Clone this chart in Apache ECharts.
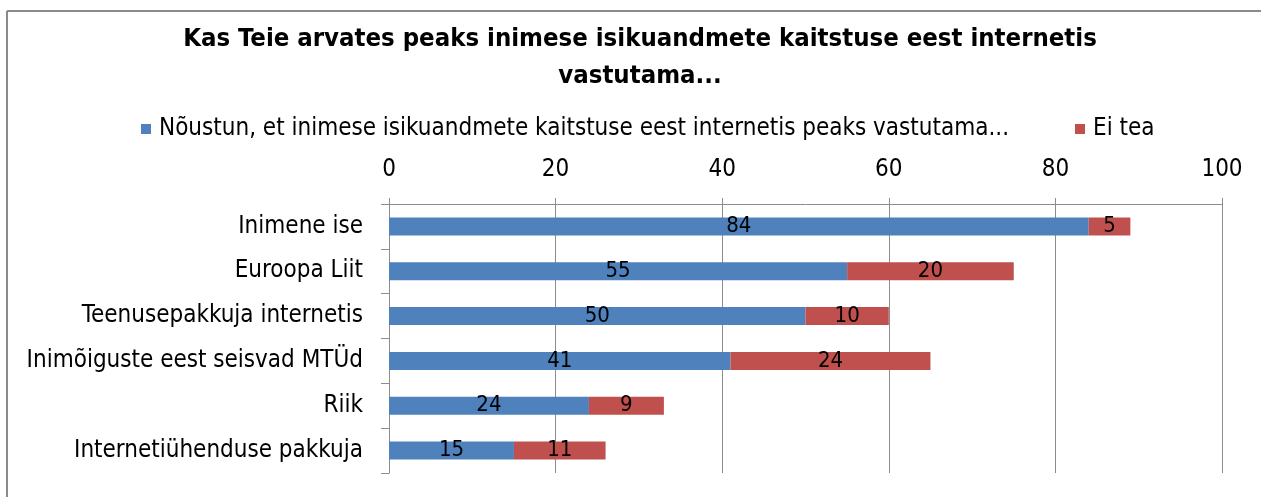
<!DOCTYPE html>
<html>
<head>
<meta charset="utf-8">
<script src="https://cdn.jsdelivr.net/npm/echarts@6/dist/echarts.min.js"></script>
<style>
  html, body { margin: 0; padding: 0; background: #fff; }
  #chart { width: 1261px; height: 497px; }
</style>
</head>
<body>
<div id="chart"></div>
<script>
// categories (top to bottom)
const categories = [
  'Inimene ise',
  'Euroopa Liit',
  'Teenusepakkuja internetis',
  'Inimõiguste eest seisvad MTÜd',
  'Riik',
  'Internetiühenduse pakkuja'
]
const agreeValues = [84, 55, 50, 41, 24, 15]
const dontKnowValues = [5, 20, 10, 24, 9, 11]
const seriesNames = ['Nõustun, et inimese isikuandmete kaitstuse eest internetis peaks vastutama...', 'Ei tea']
const titleText = 'Kas Teie arvates peaks inimese isikuandmete kaitstuse eest internetis\nvastutama...'

const font = '"DejaVu Sans Condensed", "Liberation Sans Narrow", sans-serif'
const gridColor = '#8c8c8c'
const textSize = 24

let chart = echarts.init(document.getElementById('chart'))

// label shown inside the middle of each segment
const barLabel = {
  show: true,
  position: 'inside',
  color: '#000',
  fontFamily: font,
  fontSize: 22
}

chart.setOption({
  backgroundColor: '#fff',
  animation: false,
  title: {
    text: titleText,
    left: 640,
    textAlign: 'center',
    top: 21,
    padding: 0,
    textStyle: {
      fontFamily: font,
      fontWeight: 'bold',
      fontSize: 25.5,
      lineHeight: 37,
      color: '#000'
    }
  },
  legend: {
    top: 117,
    left: 141,
    padding: 0,
    itemWidth: 10,
    itemHeight: 10,
    itemGap: 66,
    icon: 'rect',
    itemStyle: { borderWidth: 0 },
    textStyle: { fontFamily: font, fontSize: textSize, color: '#000', padding: [0, 0, 0, 3] }
  },
  grid: { left: 389, right: 39, top: 204, bottom: 24, containLabel: false },
  xAxis: {
    type: 'value',
    position: 'top',
    min: 0,
    max: 100,
    interval: 20,
    axisLine: { show: true, lineStyle: { color: gridColor, width: 1 } },
    axisTick: { show: true, length: 6, lineStyle: { color: gridColor } },
    axisLabel: { fontFamily: font, fontSize: textSize, color: '#000', margin: 22 },
    splitLine: { show: true, lineStyle: { color: gridColor, width: 1 } }
  },
  yAxis: {
    type: 'category',
    data: categories,
    inverse: true,
    axisLine: { show: true, lineStyle: { color: gridColor } },
    axisTick: { show: true, length: 8, lineStyle: { color: gridColor } },
    axisLabel: { fontFamily: font, fontSize: textSize, color: '#000', margin: 26 }
  },
  series: [
    {
      name: seriesNames[0],
      type: 'bar',
      stack: 'total',
      data: agreeValues,
      barWidth: 18,
      itemStyle: { color: '#4F81BD' },
      label: barLabel
    },
    {
      name: seriesNames[1],
      type: 'bar',
      stack: 'total',
      data: dontKnowValues,
      barWidth: 18,
      itemStyle: { color: '#C0504D' },
      label: barLabel
    }
  ],
  graphic: [
    // outer chart frame (top and left edges visible)
    { type: 'line', shape: { x1: 7, y1: 11, x2: 1261, y2: 11 }, style: { stroke: '#8a8a8a', lineWidth: 2 } },
    { type: 'line', shape: { x1: 7, y1: 11, x2: 7, y2: 497 }, style: { stroke: '#8a8a8a', lineWidth: 2 } }
  ]
})
</script>
</body>
</html>
